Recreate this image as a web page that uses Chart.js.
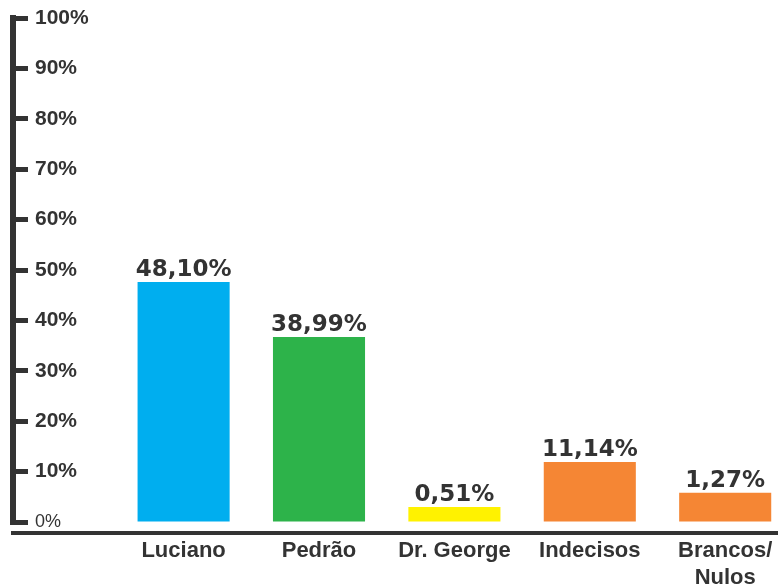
<!DOCTYPE html>
<html>
<head>
<meta charset="utf-8">
<title>Pesquisa</title>
<script src="https://cdn.jsdelivr.net/npm/chart.js@4.4.1/dist/chart.umd.min.js"></script>
<style>
  html, body { margin: 0; padding: 0; background: #fff; overflow: hidden; }
</style>
</head>
<body>
<canvas id="pollChart" width="778" height="587"></canvas>
<script>
// categories (last one is split on two lines like in the picture)
const candidates = ['Luciano', 'Pedrão', 'Dr. George', 'Indecisos', ['Brancos/', 'Nulos']];
// bar heights as drawn in the picture (the small ones are drawn taller than their numbers)
const barHeights = [47.6, 36.7, 3.0, 11.9, 5.8];
// printed values on top of the bars
const valueLabels = ['48,10%', '38,99%', '0,51%', '11,14%', '1,27%'];
const barColors = ['#00aeef', '#2db34a', '#fff200', '#f58634', '#f58634'];
const yTicks = [0, 10, 20, 30, 40, 50, 60, 70, 80, 90, 100];

const dark = '#333333';

// draws the percentages above each bar
const valueLabelPlugin = {
  id: 'valueLabels',
  afterDatasetsDraw(chart) {
    const ctx = chart.ctx;
    const meta = chart.getDatasetMeta(0);
    ctx.save();
    ctx.font = 'bold 23px "DejaVu Sans"';
    ctx.fillStyle = dark;
    ctx.textAlign = 'center';
    ctx.textBaseline = 'alphabetic';
    meta.data.forEach((bar, i) => {
      ctx.fillText(valueLabels[i], bar.x, bar.y - 6);
    });
    ctx.restore();
  }
};

const data = {
  datasets: [{
    data: barHeights.map((h, i) => ({ x: i, y: h })),
    backgroundColor: barColors,
    borderWidth: 0,
    barPercentage: 0.68,
    categoryPercentage: 1
  }]
};

const config = {
  type: 'bar',
  data,
  options: {
    responsive: false,
    animation: false,
    devicePixelRatio: 1,
    layout: { padding: { top: 18, bottom: 65, left: 0, right: 0 } },
    plugins: {
      legend: { display: false },
      tooltip: { enabled: false }
    },
    scales: {
      x: {
        type: 'linear',
        min: -1.26,
        max: 4.39,
        offset: false,
        position: { y: -2.2 }, // baseline sits a bit under the 0% tick
        afterBuildTicks(scale) {
          scale.ticks = candidates.map((c, i) => ({ value: i }));
        },
        border: { display: true, width: 4, color: dark },
        grid: { display: false, drawTicks: false, offset: false },
        ticks: {
          autoSkip: false,
          maxRotation: 0,
          padding: 5,
          color: dark,
          font: { family: '"Liberation Sans", Arial, sans-serif', size: 22, weight: 'bold', lineHeight: 1.2 },
          callback: v => candidates[v]
        }
      },
      y: {
        min: 0,
        max: 100,
        afterFit(scale) {
          // thin axis: labels are mirrored inside, so no extra room is needed
          scale.width = 13;
          scale.paddingTop = 0;
          scale.paddingBottom = 0;
        },
        afterBuildTicks(scale) {
          scale.ticks = yTicks.map(v => ({ value: v }));
        },
        border: { display: true, width: 6, color: dark },
        grid: { drawOnChartArea: false, drawTicks: true, tickLength: -15, tickWidth: 5, tickColor: dark },
        ticks: {
          autoSkip: false,
          mirror: true,
          padding: 22,
          color: dark,
          font: ctx => ctx.tick && ctx.tick.value === 0
            ? { family: '"Liberation Sans", Arial, sans-serif', size: 18, weight: 'normal' }
            : { family: '"Liberation Sans", Arial, sans-serif', size: 21, weight: 'bold' },
          callback: v => v + '%'
        }
      }
    }
  },
  plugins: [valueLabelPlugin]
};

const pollChart = new Chart(document.getElementById('pollChart'), config);
</script>
</body>
</html>
